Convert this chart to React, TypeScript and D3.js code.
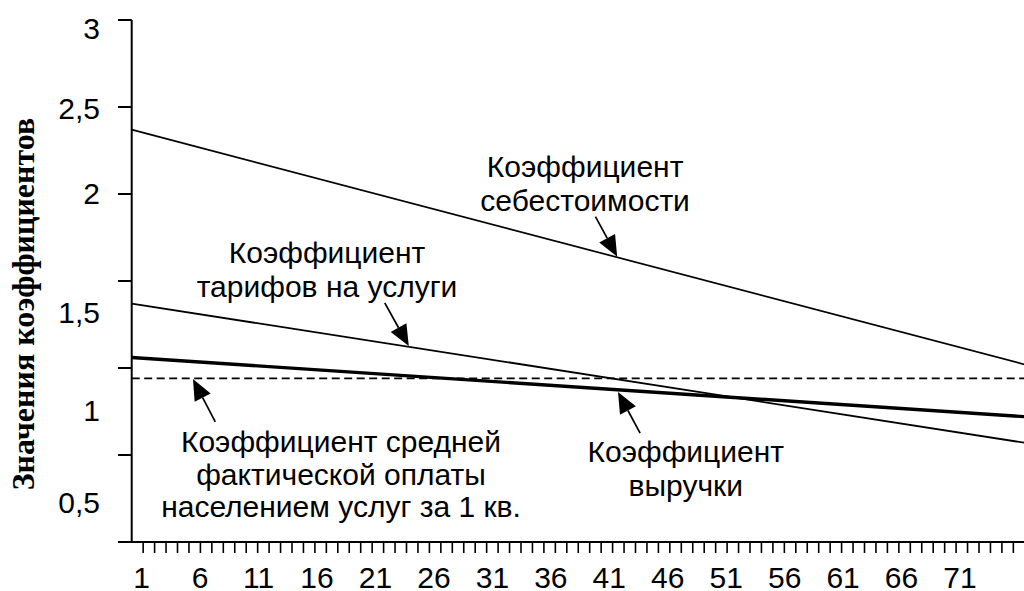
import React from "react";
import * as d3 from "d3";

// ---- data ----
const categoryStart = 1;
const categoryEnd = 79;
const seriesCategories = [1, 79];
const costValues = [2.37, 1.02]; // Коэффициент себестоимости
const tariffValues = [1.37, 0.57]; // Коэффициент тарифов на услуги
const revenueValues = [1.06, 0.72]; // Коэффициент выручки
const paymentValues = [0.94, 0.94]; // Коэффициент средней фактической оплаты

const yTickValues = [0, 0.5, 1, 1.5, 2, 2.5, 3];
const yTickLabels = ["0,5", "1", "1,5", "2", "2,5", "3"];
const yLabelValues = [0.5, 1, 1.5, 2, 2.5, 3];
const xLabelValues = [1, 6, 11, 16, 21, 26, 31, 36, 41, 46, 51, 56, 61, 66, 71];

const yTitle = "Значения коэффициентов";

// annotations in data units (category, value)
const annotations = [
  { lines: ["Коэффициент", "себестоимости"], tx: 40.6, ty: 2.1, gap: 34, tail: [41.5, 1.87], tip: [43.4, 1.64] },
  { lines: ["Коэффициент", "тарифов на услуги"], tx: 18.06, ty: 1.603, gap: 34, tail: [23.1, 1.374], tip: [25.2, 1.126] },
  { lines: ["Коэффициент средней", "фактической оплаты", "населением услуг за 1 кв."], tx: 19.28, ty: 0.517, gap: 32.5, tail: [8.3, 0.69], tip: [6.35, 0.937] },
  { lines: ["Коэффициент", "выручки"], tx: 49.39, ty: 0.46, gap: 34, tail: [45.4, 0.626], tip: [43.47, 0.862] },
];

const W = 1024;
const H = 591;
const sans = "'Liberation Sans', Arial, sans-serif";

export default function App() {
  const x = d3.scaleLinear().domain([categoryStart, categoryEnd]).range([131.7, 1024.8]);
  const y = d3.scaleLinear().domain([0, 3]).range([542, 20]);
  // tick-label placement scales (labels in the original sit off the tick marks)
  const xLab = d3.scaleLinear().domain([1, 71]).range([141.7, 960]);
  const yLab = d3.scaleLinear().domain(yLabelValues).range([502, 410, 312, 193, 108, 28]);

  const line = d3
    .line<number>()
    .x((_, i) => x(seriesCategories[i]))
    .y((d) => y(d));

  const minorTicks = d3.range(categoryStart + 1, categoryEnd + 1);

  const arrow = (tail: number[], tip: number[]) => {
    const x0 = x(tail[0]), y0 = y(tail[1]);
    const x1 = x(tip[0]), y1 = y(tip[1]);
    const dx = x1 - x0, dy = y1 - y0;
    const len = Math.hypot(dx, dy);
    const ux = dx / len, uy = dy / len;
    const hl = 21, hw = 9;
    const bx = x1 - ux * hl, by = y1 - uy * hl;
    const pts = [
      [x1, y1],
      [bx - uy * hw, by + ux * hw],
      [bx + uy * hw, by - ux * hw],
    ];
    return (
      <g>
        <line x1={x0} y1={y0} x2={bx} y2={by} stroke="#000" strokeWidth={1.7} />
        <polygon points={pts.map((p) => p.join(",")).join(" ")} fill="#000" />
      </g>
    );
  };

  return (
    <svg width={W} height={H} style={{ position: "absolute", left: 0, top: 0 }} fontFamily={sans}>
      <rect width={W} height={H} fill="#fff" />
      {/* y title */}
      <text
        transform={`translate(23,304) rotate(-90)`}
        textAnchor="middle"
        dominantBaseline="central"
        fontFamily="'Liberation Serif', 'Times New Roman', serif"
        fontWeight="bold"
        fontSize={32}
      >
        {yTitle}
      </text>
      {/* y axis */}
      <line x1={x(categoryStart)} x2={x(categoryStart)} y1={y(3)} y2={y(0)} stroke="#000" strokeWidth={2} />
      {yTickValues.map((v) => (
        <line key={v} x1={118} x2={x(categoryStart)} y1={y(v)} y2={y(v)} stroke="#000" strokeWidth={2} />
      ))}
      {yLabelValues.map((v, i) => (
        <text key={v} x={100} y={yLab(v)} textAnchor="end" dominantBaseline="central" fontSize={30}>
          {yTickLabels[i]}
        </text>
      ))}
      {/* x axis */}
      <line x1={118} x2={W} y1={y(0)} y2={y(0)} stroke="#000" strokeWidth={2} />
      {minorTicks.map((c) => (
        <line key={c} x1={x(c)} x2={x(c)} y1={y(0)} y2={y(0) + 11} stroke="#000" strokeWidth={1.6} />
      ))}
      {xLabelValues.map((c) => (
        <text key={c} x={xLab(c)} y={588} textAnchor="middle" fontSize={30}>
          {c}
        </text>
      ))}
      {/* series */}
      <path d={line(paymentValues) || ""} fill="none" stroke="#000" strokeWidth={1.7} strokeDasharray="8,4.5" />
      <path d={line(costValues) || ""} fill="none" stroke="#000" strokeWidth={1.7} />
      <path d={line(tariffValues) || ""} fill="none" stroke="#000" strokeWidth={1.8} />
      <path d={line(revenueValues) || ""} fill="none" stroke="#000" strokeWidth={3.4} />
      {/* annotations */}
      {annotations.map((a, i) => (
        <g key={i}>
          <text x={x(a.tx)} y={y(a.ty)} textAnchor="middle" fontSize={30}>
            {a.lines.map((l, j) => (
              <tspan key={j} x={x(a.tx)} dy={j === 0 ? 0 : a.gap}>
                {l}
              </tspan>
            ))}
          </text>
          {arrow(a.tail, a.tip)}
        </g>
      ))}
    </svg>
  );
}
